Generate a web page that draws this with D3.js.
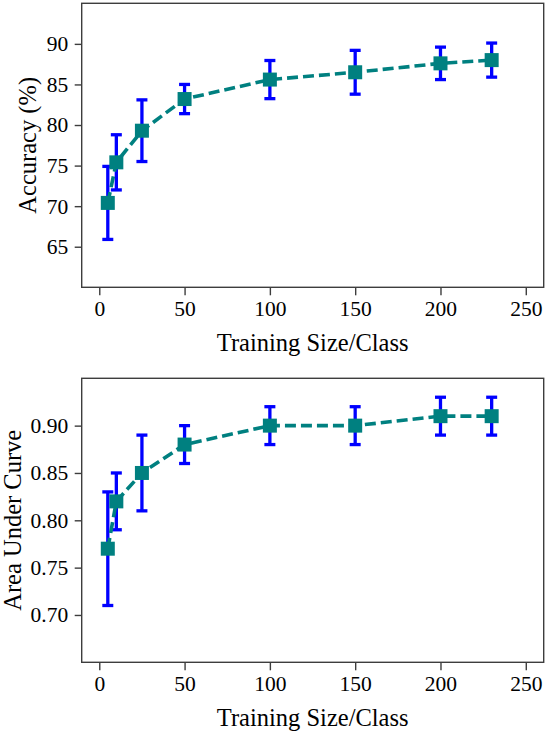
<!DOCTYPE html>
<html>
<head>
<meta charset="utf-8">
<script src="https://cdn.jsdelivr.net/npm/d3@7"></script>
<style>
  body { margin: 0; background: #fff; }
  svg { display: block; }
  svg text { font-family: "Liberation Serif", "Times New Roman", serif; fill: #000; }
</style>
</head>
<body>
<svg id="chart" width="550" height="738"></svg>
<script>
/*************** data *****************/
var sizes = [5, 10, 25, 50, 100, 150, 200, 230];
var accMean = [70.4, 75.4, 79.3, 83.2, 85.6, 86.5, 87.6, 88.0];
var accErr = [4.5, 3.4, 3.8, 1.8, 2.35, 2.7, 2.0, 2.1];
var aucMean = [0.77, 0.82, 0.85, 0.88, 0.90, 0.90, 0.91, 0.91];
var aucErr = [0.06, 0.03, 0.04, 0.02, 0.02, 0.02, 0.02, 0.02];
var xTicks = [0, 50, 100, 150, 200, 250];
var accTicks = [65, 70, 75, 80, 85, 90];
var aucTicks = [0.70, 0.75, 0.80, 0.85, 0.90];

/*************** settings *****************/
var left = 81.7, right = 543.7,
    panelH = 284,
    spineColor = "#3d3d3d",
    barColor = "#0000ff",
    lineColor = "#008080",
    tickFont = 21.5,
    labelFont = 24.5;

var svg = d3.select("#chart");

var x = d3.scaleLinear().domain([-10.3, 260.5]).range([left, right]);

function panel(top, means, errs, yDomain, ticks, fmt, yLabel, yLabelX) {
	var y = d3.scaleLinear().domain(yDomain).range([top + panelH, top]);
	var pts = sizes.map(function(s, i) { return {x: s, m: means[i], e: errs[i]}; });
	var g = svg.append("g");

	// axes
	var xAxis = d3.axisBottom(x).tickValues(ticks.x).tickSizeOuter(0).tickSize(8).tickPadding(5.5);
	var yAxis = d3.axisLeft(y).tickValues(ticks.y).tickFormat(fmt).tickSizeOuter(0).tickSize(7).tickPadding(6.5);

	var gx = g.append("g").attr("transform", "translate(0," + (top + panelH) + ")").call(xAxis);
	var gy = g.append("g").attr("transform", "translate(" + left + ",0)").call(yAxis);
	[gx, gy].forEach(function(a) {
		a.attr("font-family", null).attr("font-size", null);
		a.select(".domain").remove();
		a.selectAll(".tick line").attr("stroke", spineColor).attr("stroke-width", 1.4);
		a.selectAll(".tick text").attr("fill", "#000").style("font-size", tickFont + "px");
	});

	// error bars
	var eb = g.append("g").attr("stroke", barColor).attr("stroke-width", 3.3).attr("fill", "none");
	pts.forEach(function(d) {
		var cx = x(d.x), y0 = y(d.m - d.e), y1 = y(d.m + d.e);
		eb.append("line").attr("x1", cx).attr("x2", cx).attr("y1", y0).attr("y2", y1);
		eb.append("line").attr("x1", cx - 5.5).attr("x2", cx + 5.5).attr("y1", y0).attr("y2", y0);
		eb.append("line").attr("x1", cx - 5.5).attr("x2", cx + 5.5).attr("y1", y1).attr("y2", y1);
	});

	// dashed line
	var line = d3.line().x(function(d) { return x(d.x); }).y(function(d) { return y(d.m); });
	g.append("path").datum(pts)
		.attr("d", line)
		.attr("fill", "none")
		.attr("stroke", lineColor)
		.attr("stroke-width", 3.6)
		.attr("stroke-dasharray", "11,5");

	// square markers
	g.selectAll("rect.marker").data(pts).enter().append("rect")
		.attr("class", "marker")
		.attr("x", function(d) { return x(d.x) - 7; })
		.attr("y", function(d) { return y(d.m) - 7; })
		.attr("width", 14).attr("height", 14)
		.attr("fill", lineColor);

	// frame
	g.append("rect")
		.attr("x", left).attr("y", top)
		.attr("width", right - left).attr("height", panelH)
		.attr("fill", "none").attr("stroke", spineColor).attr("stroke-width", 1.4);

	// labels
	g.append("text")
		.attr("x", (left + right) / 2).attr("y", top + panelH + 63.5)
		.attr("text-anchor", "middle")
		.style("font-size", labelFont + "px")
		.text("Training Size/Class");

	g.append("text")
		.attr("transform", "translate(" + yLabelX + "," + (top + panelH / 2) + ") rotate(-90)")
		.attr("text-anchor", "middle")
		.attr("dy", "0.35em")
		.style("font-size", labelFont + "px")
		.text(yLabel);
}

panel(3.3, accMean, accErr, [60, 95], {x: xTicks, y: accTicks}, d3.format("d"), "Accuracy (%)", 27);
panel(378.3, aucMean, aucErr, [0.65, 0.95], {x: xTicks, y: aucTicks}, d3.format(".2f"), "Area Under Curve", 12);
</script>
</body>
</html>
